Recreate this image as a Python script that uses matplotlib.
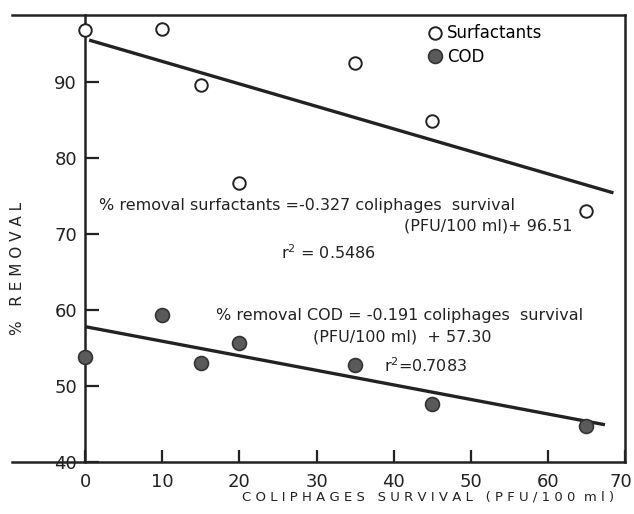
import matplotlib
matplotlib.use('Agg')
import matplotlib.pyplot as plt
import matplotlib.transforms as mtransforms

# Data
survival = [0, 10, 15, 20, 35, 45, 65]
surfactants = [96.8, 96.9, 89.6, 76.7, 92.5, 84.8, 73.0]
cod = [53.8, 59.3, 53.0, 55.6, 52.7, 47.6, 44.8]
surf_fit_x = [0.5, 68.5]
surf_fit_y = [95.5, 75.4]
cod_fit_x = [0, 67.4]
cod_fit_y = [57.8, 44.9]
xticks = [0, 10, 20, 30, 40, 50, 60, 70]
yticks = [40, 50, 60, 70, 80, 90]

fig = plt.figure(figsize=(6.34, 5.14), dpi=100)
ax = fig.add_axes([12/634, 1-462/514, (625-12)/634, (462-15)/514])

ax.plot(surf_fit_x, surf_fit_y, color='#222222', lw=2.4, solid_capstyle='butt')
ax.plot(cod_fit_x, cod_fit_y, color='#222222', lw=2.4, solid_capstyle='butt')
ax.plot(survival, surfactants, 'o', ms=9, mfc='white', mec='#222222', mew=1.4,
        label='Surfactants', zorder=3)
ax.plot(survival, cod, 'o', ms=10, mfc='#5a5a5a', mec='#333333', mew=1.2,
        label='COD', zorder=3)

ax.set_xlim(-9.5, 70)
ax.set_ylim(40.2, 98.8)
ax.set_xticks(xticks)
ax.set_yticks(yticks)

ax.spines['left'].set_position(('data', 0))
for s in ['left', 'right', 'top', 'bottom']:
    ax.spines[s].set_linewidth(1.8)
    ax.spines[s].set_color('#222222')

ax.tick_params(axis='y', direction='in', length=10, width=1.6, labelsize=13,
               pad=6, colors='#222222')
ax.tick_params(axis='x', direction='in', length=9, width=1.6, labelsize=13,
               pad=8, colors='#222222')

# nudge the last x tick label so it stays inside the figure
last = ax.xaxis.get_major_ticks()[-1].label1
last.set_transform(last.get_transform() +
                   mtransforms.ScaledTranslation(-4/100, 0, fig.dpi_scale_trans))

leg = ax.legend(loc='upper left', bbox_to_anchor=(42.6, 99.1),
                bbox_transform=ax.transData, frameon=False, fontsize=12,
                handletextpad=0.1, handlelength=1.2, labelspacing=0.35,
                borderpad=0.2)

fs = 11.5
tc = '#222222'
ax.text(1.8, 73.7, '% removal surfactants =-0.327 coliphages  survival',
        fontsize=fs, va='center', ha='left', color=tc)
ax.text(41.4, 71.0, '(PFU/100 ml)+ 96.51', fontsize=fs, va='center',
        ha='left', color=tc)
ax.text(25.4, 67.6, 'r$^{2}$ = 0.5486', fontsize=fs, va='center', ha='left',
        color=tc)
ax.text(17.0, 59.3, '% removal COD = -0.191 coliphages  survival',
        fontsize=fs, va='center', ha='left', color=tc)
ax.text(29.5, 56.5, '(PFU/100 ml)  + 57.30', fontsize=fs, va='center',
        ha='left', color=tc)
ax.text(38.7, 52.7, 'r$^{2}$=0.7083', fontsize=fs, va='center', ha='left',
        color=tc)

fig.text(18/634, 1-268/514, '%   R E M O V A L', rotation=90, fontsize=11,
         va='center', ha='center', color=tc)
fig.text(428/634, 1-497/514, 'C O L I P H A G E S   S U R V I V A L   ( P F U / 1 0 0  m l )',
         fontsize=9.5, va='center', ha='center', color=tc)

fig.savefig('out.png', dpi=100)
